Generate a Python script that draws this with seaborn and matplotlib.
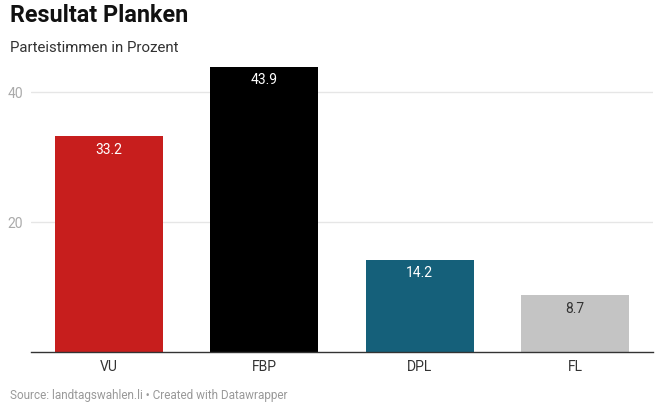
import matplotlib
matplotlib.use("Agg")
import matplotlib.pyplot as plt
import seaborn as sns
import pandas as pd

parties = ["VU", "FBP", "DPL", "FL"]
shares = [33.2, 43.9, 14.2, 8.7]
colors = ["#c71e1d", "#000000", "#15607a", "#c4c4c4"]
label_colors = ["white", "white", "white", "#333333"]

sns.set_style("white")
plt.rcParams["font.family"] = ["Roboto", "DejaVu Sans"]

df = pd.DataFrame({"party": parties, "share": shares})

fig = plt.figure(figsize=(6.64, 4.08), dpi=100)
ax = fig.add_axes([0.0471, 0.1373, 0.9360, 0.7167])

sns.barplot(data=df, x="party", y="share", hue="party", palette=colors,
            width=0.695, legend=False, ax=ax, saturation=1, linewidth=0)

ax.set_xlim(-0.5, 3.5)
ax.set_ylim(0, 45)
ax.set_yticks([20, 40])
ax.grid(axis="y", color="#e6e6e6", linewidth=1)
ax.set_axisbelow(True)
for s in ["top", "right", "left"]:
    ax.spines[s].set_visible(False)
ax.spines["bottom"].set_color("#333333")
ax.spines["bottom"].set_linewidth(1)
ax.tick_params(axis="y", length=0, labelsize=10, labelcolor="#aaaaaa", pad=6)
ax.tick_params(axis="x", length=0, labelsize=10, labelcolor="#333333", pad=6)
ax.set_xlabel("")
ax.set_ylabel("")

for i, (v, c) in enumerate(zip(shares, label_colors)):
    ax.text(i, v - 1.0, f"{v}", ha="center", va="top", fontsize=10, color=c)

fig.text(0.015, 0.99, "Resultat Planken", fontsize=16.8, fontweight="bold",
         color="#111111", va="top")
fig.text(0.015, 0.9, "Parteistimmen in Prozent", fontsize=10.8,
         color="#333333", va="top")
fig.text(0.015, 0.015, "Source: landtagswahlen.li • Created with Datawrapper",
         fontsize=8.5, color="#999999", va="bottom")

fig.savefig("out.png", dpi=100)
